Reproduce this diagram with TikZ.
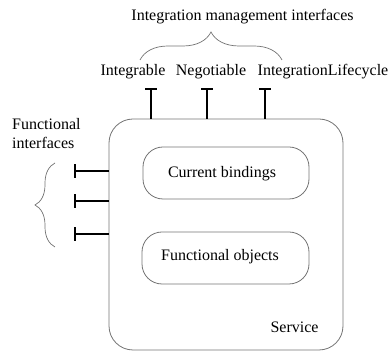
\documentclass[tikz,border=0pt]{standalone}
\usepackage{fontspec}
\setmainfont{Liberation Serif}
\usetikzlibrary{decorations.pathreplacing}

\begin{document}
\begin{tikzpicture}[x=1pt,y=-1pt]
\tikzstyle{every node}+=[inner sep=0pt, font=\fontsize{16}{19}\selectfont]
\tikzstyle{frame}=[draw=black!55, line width=0.8pt]
\tikzstyle{plug}=[black, line width=1.5pt]
\tikzstyle{curly}=[draw=black!55, line width=0.7pt, decorate]
\useasboundingbox (0,0) rectangle (389,352);
% component and its parts
\node [frame, rounded corners=24pt, minimum width=234pt, minimum height=231pt] (service) at (226,234.5) {};
\node [frame, rounded corners=20pt, minimum width=166pt, minimum height=52pt] (bindings) at (226,173) {};
\node [frame, rounded corners=20pt, minimum width=167pt, minimum height=52pt] (objects) at (225.5,258) {};
\node [anchor=base] (bindingstext) at (222,178) {Current bindings};
\node [anchor=base] (objectstext) at (220,261) {Functional objects};
\node [anchor=base] (servicetext) at (294.5,333) {Service};
% integration management interfaces
\coordinate (integrable) at (151,89);
\coordinate (negotiable) at (207,89);
\coordinate (lifecycle) at (265,89);
\draw [plug] (integrable) -- (integrable |- service.north);
\draw [plug] ([xshift=-6pt]integrable) -- ([xshift=6pt]integrable);
\draw [plug] (negotiable) -- (negotiable |- service.north);
\draw [plug] ([xshift=-6pt]negotiable) -- ([xshift=6pt]negotiable);
\draw [plug] (lifecycle) -- (lifecycle |- service.north);
\draw [plug] ([xshift=-6pt]lifecycle) -- ([xshift=6pt]lifecycle);
\node [anchor=base] (integrabletext) at (133,76) {Integrable};
\node [anchor=base] (negotiabletext) at (211,76) {Negotiable};
\node [anchor=base] (lifecycletext) at (323,76) {IntegrationLifecycle};
\draw [curly, decoration={brace, amplitude=28pt}] (140,60) -- (282,60);
\node [anchor=base] (mgmttext) at (242.5,21) {Integration management interfaces};
% functional interfaces
\coordinate (func1) at (75,171);
\coordinate (func2) at (75,201);
\coordinate (func3) at (75,234);
\draw [plug] (func1) -- (func1 -| service.west);
\draw [plug] ([yshift=-7pt]func1) -- ([yshift=7pt]func1);
\draw [plug] (func2) -- (func2 -| service.west);
\draw [plug] ([yshift=-7pt]func2) -- ([yshift=7pt]func2);
\draw [plug] (func3) -- (func3 -| service.west);
\draw [plug] ([yshift=-7pt]func3) -- ([yshift=7pt]func3);
\draw [curly, decoration={brace, amplitude=20pt}] (55,247) -- (55,163);
\node [anchor=base west, align=left] (functext) at (12,149) {Functional\\interfaces};
\end{tikzpicture}
\end{document}
